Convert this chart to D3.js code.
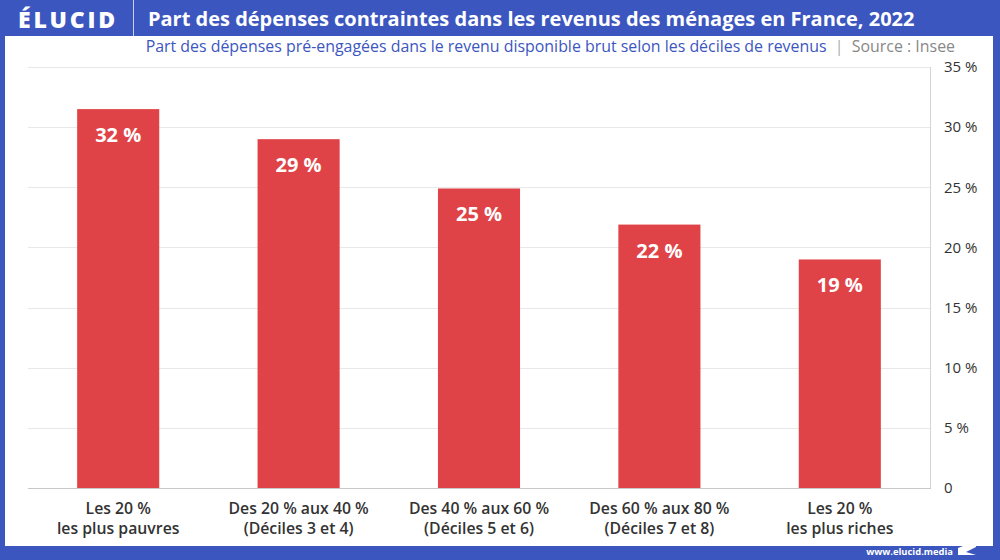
<!DOCTYPE html>
<html>
<head>
<meta charset="utf-8">
<script src="https://cdn.jsdelivr.net/npm/d3@7"></script>
<style>
  body { margin: 0; background: #3c56c0; }
  svg { display: block; font-family: "Open Sans", Lato, sans-serif; }
</style>
</head>
<body>
<svg id="chart" width="1000" height="560"></svg>
<script>
// chart data
var categories = ['q1', 'q2', 'q3', 'q4', 'q5'];
var catLines = [
  ['Les 20 %', 'les plus pauvres'],
  ['Des 20 % aux 40 %', '(Déciles 3 et 4)'],
  ['Des 40 % aux 60 %', '(Déciles 5 et 6)'],
  ['Des 60 % aux 80 %', '(Déciles 7 et 8)'],
  ['Les 20 %', 'les plus riches']
];
var values = [31.5, 29.0, 24.9, 21.9, 19.0];
var tickValues = [0, 5, 10, 15, 20, 25, 30, 35];

var blue = '#3c56c0',
    red = '#e04347',
    W = 1000,
    H = 560;

var svg = d3.select('#chart');

// squeeze/stretch a text node to a target width by font size
function fitWidth(sel, target) {
  var fs = +sel.attr('font-size'),
      w = sel.node().getComputedTextLength();
  if (w > 0) sel.attr('font-size', fs * target / w);
}

// frame
svg.append('rect').attr('width', W).attr('height', H).attr('fill', blue);
svg.append('rect')
  .attr('x', 5).attr('y', 36)
  .attr('width', 988).attr('height', 510)
  .attr('fill', '#fff');

// header
var logo = svg.append('text')
  .attr('x', 18).attr('y', 28)
  .attr('fill', '#fff')
  .attr('font-size', 23).attr('font-weight', 800)
  .text('ÉLUCID');
var lw = logo.node().getComputedTextLength();
logo.attr('letter-spacing', (100 - lw) / 6);
svg.append('line')
  .attr('x1', 133.5).attr('x2', 133.5)
  .attr('y1', 0).attr('y2', 36)
  .attr('stroke', '#c9d0ee').attr('stroke-width', 1);
var title = svg.append('text')
  .attr('x', 148).attr('y', 26)
  .attr('fill', '#fff')
  .attr('font-size', 20).attr('font-weight', 700)
  .text('Part des dépenses contraintes dans les revenus des ménages en France, 2022');
fitWidth(title, 767);

var sub = svg.append('text')
  .attr('x', 955).attr('y', 52)
  .attr('text-anchor', 'end')
  .attr('font-size', 15);
sub.append('tspan').attr('fill', blue)
  .text('Part des dépenses pré-engagées dans le revenu disponible brut selon les déciles de revenus');
sub.append('tspan').attr('fill', '#aaa').text('\u00a0\u00a0|\u00a0\u00a0');
sub.append('tspan').attr('fill', '#888').text('Source : Insee');
fitWidth(sub, 810);

// scales
var x = d3.scaleBand()
  .domain(categories)
  .range([28, 930])
  .paddingInner(0.545)
  .paddingOuter(0.2725);

var y = d3.scaleLinear()
  .domain([0, 35])
  .range([488, 67]);

// grid
svg.append('g')
  .selectAll('line')
  .data(tickValues.filter(function (d) { return d > 0; }))
  .join('line')
    .attr('x1', 28).attr('x2', 930)
    .attr('y1', function (d) { return Math.round(y(d)) + 0.5; })
    .attr('y2', function (d) { return Math.round(y(d)) + 0.5; })
    .attr('stroke', '#e8e8ec');

svg.append('line')
  .attr('x1', 930.5).attr('x2', 930.5)
  .attr('y1', y(35)).attr('y2', y(0))
  .attr('stroke', '#d4d4d4');

// bars
svg.append('g')
  .selectAll('rect')
  .data(values)
  .join('rect')
    .attr('x', function (d, i) { return x(categories[i]); })
    .attr('y', function (d) { return y(d); })
    .attr('width', x.bandwidth())
    .attr('height', function (d) { return y(0) - y(d); })
    .attr('fill', red);

// value labels
svg.append('g')
  .selectAll('text')
  .data(values)
  .join('text')
    .attr('x', function (d, i) { return x(categories[i]) + x.bandwidth() / 2; })
    .attr('y', function (d) { return y(d) + 33; })
    .attr('text-anchor', 'middle')
    .attr('fill', '#fff')
    .attr('font-size', 20).attr('font-weight', 700)
    .text(function (d) { return Math.round(d) + ' %'; });

// baseline
svg.append('line')
  .attr('x1', 28).attr('x2', 931)
  .attr('y1', 488.5).attr('y2', 488.5)
  .attr('stroke', '#c8c8c8');

// right axis
var yAxis = d3.axisRight(y)
  .tickValues(tickValues)
  .tickSize(0)
  .tickPadding(0)
  .tickFormat(function (d) { return d === 0 ? '0' : d + ' %'; });

var ax = svg.append('g')
  .attr('transform', 'translate(944,0)')
  .call(yAxis);
ax.select('.domain').remove();
ax.selectAll('text')
  .attr('font-size', 15)
  .attr('fill', '#333')
  .attr('font-family', '"Open Sans", sans-serif');

// category labels
var cl = svg.append('g')
  .selectAll('text')
  .data(catLines)
  .join('text')
    .attr('text-anchor', 'middle')
    .attr('fill', '#333')
    .attr('font-size', 15.8).attr('font-weight', 600);
cl.each(function (lines, i) {
  var t = d3.select(this),
      cx = x(categories[i]) + x.bandwidth() / 2;
  lines.forEach(function (s, k) {
    t.append('tspan').attr('x', cx).attr('y', 514 + k * 20).text(s);
  });
});

// footer
var foot = svg.append('text')
  .attr('x', 953).attr('y', 555)
  .attr('text-anchor', 'end')
  .attr('fill', '#fff')
  .attr('font-size', 11).attr('font-weight', 700)
  .text('www.elucid.media');
fitWidth(foot, 87);
svg.append('path')
  .attr('d', 'M958,548 L976,541 L976,547 L966,552 L976,555 L958,555 Z')
  .attr('fill', '#fff');
</script>
</body>
</html>
